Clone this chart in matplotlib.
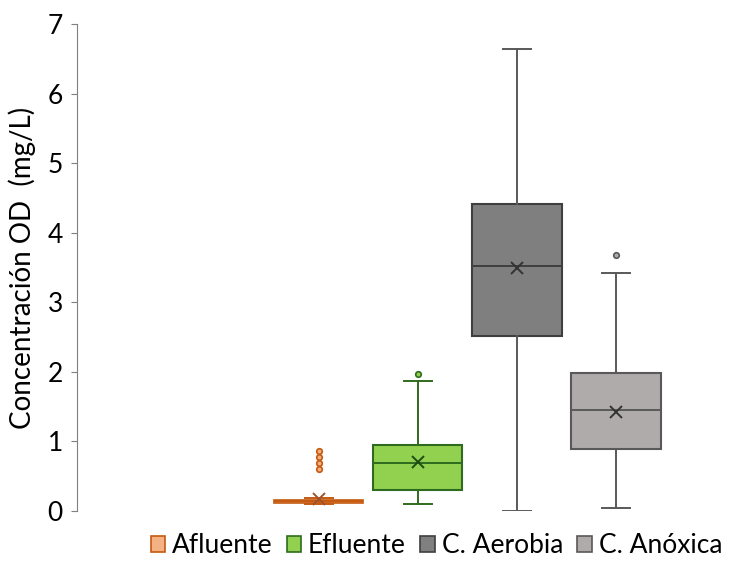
import matplotlib.pyplot as plt
from matplotlib.patches import Patch

plt.rcParams['font.family'] = ['Lato', 'DejaVu Sans']

# Datos (mg/L)
series = ["Afluente", "Efluente", "C. Aerobia", "C. Anóxica"]
whislo = [0.10, 0.10, 0.00, 0.04]
q1 = [0.12, 0.30, 2.51, 0.89]
med = [0.14, 0.69, 3.52, 1.45]
q3 = [0.16, 0.95, 4.41, 1.98]
whishi = [0.19, 1.87, 6.64, 3.42]
means = [0.17, 0.71, 3.50, 1.43]
fliers = [[0.61, 0.69, 0.78, 0.86], [1.97], [], [3.68]]

fill_colors = ["#F4B183", "#92D050", "#7F7F7F", "#AFABAB"]
edge_colors = ["#C55A11", "#2F6B1E", "#3F3F3F", "#595959"]
mean_colors = ["#A0522D", "#1E4D12", "#333333", "#333333"]

fig = plt.figure(figsize=(7.31, 5.76), dpi=100)
ax = fig.add_axes([0.105, 0.1128, 0.88, 0.8455])

for i in range(len(series)):
    st = dict(whislo=whislo[i], q1=q1[i], med=med[i], q3=q3[i],
              whishi=whishi[i], mean=means[i], fliers=fliers[i])
    ec = edge_colors[i]
    ax.bxp([st], positions=[i + 1], widths=0.9, patch_artist=True,
           showmeans=True, capwidths=0.28,
           boxprops=dict(facecolor=fill_colors[i], edgecolor=ec,
                         linewidth=1.2 if i == 0 else 1.5),
           medianprops=dict(color=ec, linewidth=1.4),
           whiskerprops=dict(color=ec if i < 2 else "#595959", linewidth=1.4),
           capprops=dict(color=ec if i < 2 else "#595959", linewidth=1.4),
           meanprops=dict(marker="x", markeredgecolor=mean_colors[i],
                          markersize=8, markeredgewidth=1.4),
           flierprops=dict(marker="o", markersize=4, markerfacecolor=fill_colors[i],
                           markeredgecolor=ec, markeredgewidth=1.2))

ax.set_xlim(-1.444, 5.05)
ax.set_ylim(0, 7)
ax.set_xticks([])
ax.set_yticks(range(0, 8))
ax.tick_params(axis='y', labelsize=19, length=4, color="#7F7F7F", pad=6)
for s in ["top", "right", "bottom"]:
    ax.spines[s].set_visible(False)
ax.spines["left"].set_color("#7F7F7F")
ax.set_ylabel("Concentración OD  (mg/L)", fontsize=20, labelpad=8)

handles = [Patch(facecolor=fill_colors[i], edgecolor=edge_colors[i], linewidth=1.2)
           for i in range(len(series))]
fig.legend(handles, series, loc="lower center", bbox_to_anchor=(0.597, -0.01), ncol=4,
           frameon=False, fontsize=19, handlelength=0.55, handleheight=0.55,
           handletextpad=0.25, columnspacing=0.55)

fig.savefig("out.png", dpi=100)
